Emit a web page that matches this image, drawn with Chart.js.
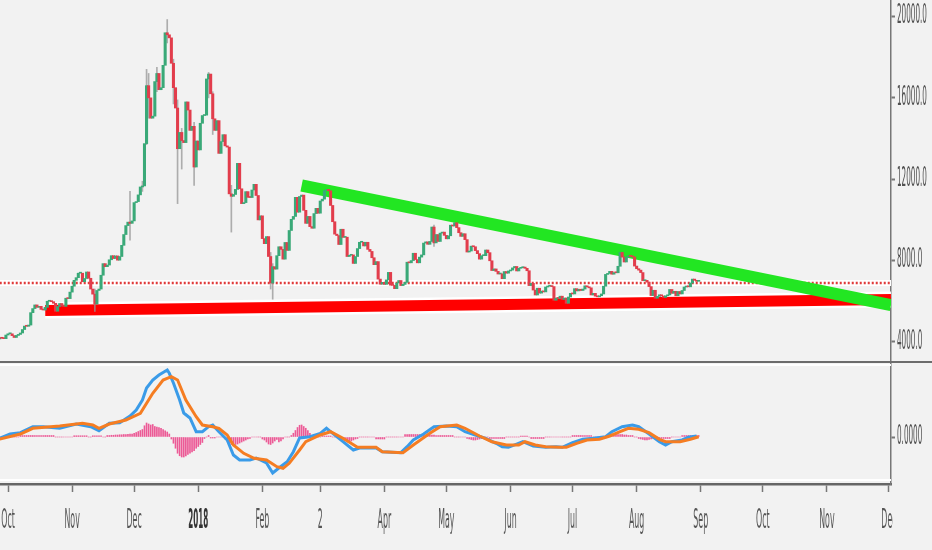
<!DOCTYPE html>
<html>
<head>
<meta charset="utf-8">
<script src="https://cdn.jsdelivr.net/npm/chart.js@4.4.0/dist/chart.umd.min.js"></script>
<style>
  html, body { margin: 0; padding: 0; background: #f2f2f2; }
  body { width: 932px; height: 550px; position: relative; overflow: hidden; }
  .abs { position: absolute; }
</style>
</head>
<body>
<div class="abs" style="left:0;top:0;width:932px;height:361px"><canvas id="price" width="932" height="361"></canvas></div>
<div class="abs" style="left:0;top:363px;width:932px;height:187px"><canvas id="macd" width="932" height="187"></canvas></div>
<div class="abs" style="left:0;top:361px;width:932px;height:2px;background:#6c6c6c"></div>
<div class="abs" style="left:0;top:364px;width:891px;height:2px;background:#ffffff"></div>
<div class="abs" style="left:0;top:479px;width:891px;height:2px;background:#ffffff"></div>
<script>
// ---------------- DATA ----------------
// day index: 0 = 1 Oct 2017 ; first candle = 27 Sep 2017
const firstDay = -4;
const startOpen = 4150;
const closes = [
 4200,4180,4160,4340,
 4400,4400,4310,4220,4320,4370,4440,4610,4780,4770,4830,5440,5640,5820,5700,5750,5600,5570,5700,6000,6010,5980,5900,5510,5740,5890,5770,5750,6150,6130,6450,
 6740,7030,7160,7380,7380,6960,7120,7440,7130,6600,6350,5860,6530,6600,7280,7850,7700,7780,8040,8240,8100,8230,8020,8200,8750,9280,9720,9890,9830,9950,
 10850,10900,11230,11620,11670,13750,16600,16000,15000,15100,16800,17200,16400,16500,17600,19200,19100,18950,17700,16500,15500,13500,14300,13900,13800,15800,15400,14400,14600,12600,13880,
 13440,14750,15130,15150,16930,17170,16200,14970,14400,14880,13270,13850,14190,13640,13580,11280,11160,11250,11500,12780,11530,10800,10850,11390,11110,11100,11470,11750,11200,10000,10200,
 9080,8830,9180,8200,6900,7700,7580,8240,8680,8550,8070,8890,8500,9480,10030,10170,11110,10380,11150,11220,10470,9830,10170,9670,9590,10310,10570,10330,
 10930,11020,11440,11500,11430,10710,9910,9300,9230,8790,9540,9140,9150,8200,8260,8280,7860,8200,8590,8900,8900,8720,8900,8550,8450,8140,7800,7950,7090,6840,6930,
 6830,7050,7420,6790,6780,6620,6900,7020,6770,6830,6930,7920,7890,8000,8360,8050,7890,8170,8280,8860,8920,8800,8940,9650,8870,9280,8940,9350,9400,9240,
 9070,9220,9740,9700,9860,9620,9370,9190,9320,9030,8420,8470,8710,8680,8490,8340,8070,8240,8240,8520,8390,7990,7510,7590,7470,7340,7350,7110,7460,7380,7490,
 7530,7640,7710,7490,7620,7650,7680,7620,7500,6770,6880,6550,6310,6640,6400,6500,6460,6700,6740,6760,6720,6050,6160,6140,6250,6090,6160,5900,6210,6390,
 6360,6620,6510,6590,6530,6600,6760,6710,6660,6310,6390,6250,6220,6270,6360,6740,7320,7370,7470,7330,7410,7400,7720,8400,8170,7930,8180,8230,8210,8180,7730,
 7600,7530,7410,7010,7030,6940,6720,6280,6540,6150,6240,6320,6260,6190,6270,6310,6580,6390,6490,6270,6480,6360,6530,6700,6730,6710,6900,7090,7030,6980,7010
];
const wickDays  = [42, 59, 65, 67, 68, 72, 77, 80, 82, 84, 90, 97, 99, 108, 127, 128, 206];
const wickHighs = [6600, 11400, 11900, 17400, 17200, 17500, 19850, 17900, 15900, 14500, 14800, 17250, 16300, 11700, 8400, 7850, 9750];
const wickLows  = [5500, 9000, 11400, 13700, 15000, 16300, 18700, 15700, 10800, 12500, 11700, 16000, 14200, 9400, 6600, 6100, 8700];

// MACD panel
const macdDays = [-4,1,6,12,17,25,33,40,44,49,54,59,62,65,67,70,73,77,78,80,83,85,88,91,94,97,99,102,106,109,112,117,120,125,128,131,135,138,141,146,151,154,157,162,167,170,178,181,190,193,196,201,206,212,217,221,226,231,236,239,242,249,254,260,265,268,273,278,283,289,292,297,302,305,310,315,318,321,326,329,333];
const macdVals = [-52,120,172,412,412,348,520,412,252,548,572,840,1080,1480,1960,2280,2480,2680,2548,2160,1480,960,760,212,212,412,480,212,-120,-720,-920,-920,-840,-1040,-1440,-1240,-988,-588,-40,12,148,348,148,-188,-520,-440,-440,-588,-628,-388,-120,120,412,440,412,212,80,-52,-252,-388,-412,-188,-360,-412,-388,-412,-228,-92,-52,12,212,412,480,412,120,-188,-320,-188,-120,-12,40];
const signalDays = [-4,6,12,25,36,41,44,49,57,64,70,75,79,82,86,91,94,99,102,106,109,114,119,125,130,133,136,141,144,151,156,162,169,178,181,191,196,204,209,217,221,228,234,241,247,250,255,260,267,270,275,280,286,291,296,300,305,310,315,318,325,330,334];
const signalVals = [-80,120,348,440,548,480,348,520,680,948,1748,2280,2412,2280,1480,812,480,412,348,80,-320,-652,-852,-920,-1188,-1252,-1052,-520,-188,80,212,-52,-412,-412,-588,-628,-320,148,412,480,348,40,-188,-320,-320,-188,-320,-388,-412,-412,-252,-120,-92,40,212,348,308,172,-92,-188,-188,-92,12];
const histVals = [
 0,0,0,0,0,0,0,0,0,0,
 60,60,60,60,60,60,60,60,60,60,60,60,60,60,60,60,60,
 0,0,0,0,0,0,0,0,0,
 50,50,50,50,50,50,50,
 0,0,
 50,50,50,50,50,
 0,0,
 60,60,70,70,80,80,90,90,100,100,110,120,120,
 150,180,220,260,
 300,450,560,520,480,500,420,400,380,350,300,250,200,120,
 -80,-250,-450,-650,-750,-800,-800,-760,-700,-650,-600,-550,-450,-380,-300,-220,
 -60,0,60,
 -40,-40,-40,0,0,0,0,
 -80,-160,-240,-300,-320,-300,-280,-240,-200,-160,-120,-80,-60,
 0,0,0,0,0,
 -80,-120,-200,-280,-300,-240,-160,-100,-200,-160,-80,
 0,0,0,
 60,150,260,380,470,480,420,350,260,150,60,
 0,0,0,0,
 40,40,40,40,40,
 0,0,0,0,
 -60,-120,-160,-200,-200,-160,-120,-80,-60,0,
 0,0,0,0,0,0,0,
 -80,-80,-80,-80,-80,
 0,0,0,0,0,0,0,0,0,
 100,100,100,100,100,100,100,100,100,
 80,80,80,80,80,80,
 60,60,60,60,60,60,60,60,60,
 0,0,0,0,0,0,
 -60,-80,-100,-120,-120,-100,-80,-60,
 0,0,0,
 -60,-60,-60,-60,-60,-60,-60,-60,
 0,0,0,0,0,0,0,
 40,40,40,40,
 0,
 -60,-60,-60,-60,-60,-60,-60,
 0,0,0,0,0,0,0,0,0,0,0,0,0,
 60,60,60,60,60,60,60,60,60,60,
 0,0,0,0,0,0,0,
 60,60,80,80,100,100,100,100,80,80,60,60,60,
 0,0,
 -60,-80,-100,-120,-120,-100,-80,-60,
 0,0,
 -60,-60,-60,-60,-60,-60,
 0,0,0,0,0,
 60,60,60,60,60,60,60,
 60,60
];

// Drawings on the price panel (day, price)
const resistanceDays = [142, 427];
const resistancePrices = [11691, 5816];
const supportDays = [18, 427];
const supportPrices = [5546, 6087];
const levelDays = [-4, 427];
const levelPrices = [6898, 6898];

// Axes
const dayMin = -3.87, dayMax = 427;
const priceMin = 3063, priceMax = 20811;
const priceTicks = [4000, 8000, 12000, 16000, 20000];
const macdMin = -1880, macdMax = 2960;
const macdTicks = [0];
const monthTickDays = [0, 31, 61, 92, 123, 151, 182, 212, 243, 273, 304, 335, 365, 396, 426];
const monthLabels = ['Oct','Nov','Dec','2018','Feb','2','Apr','May','Jun','Jul','Aug','Sep','Oct','Nov','Dec'];

// ---------------- BUILD ----------------
const UP = '#3aa978', DOWN = '#e23d4c';
const bodies = [], bodyColors = [];
closes.forEach((c, i) => {
  const o = i === 0 ? startOpen : closes[i - 1];
  bodies.push({ x: firstDay + i, y: [o, c] });
  bodyColors.push(c >= o ? UP : DOWN);
});
const wicks = wickDays.map((d, i) => ({ x: d, y: [wickLows[i], wickHighs[i]] }));
const pts = (xs, ys) => xs.map((x, i) => ({ x: x, y: ys[i] }));
const hist = histVals.map((v, i) => ({ x: firstDay + i, y: v }));

const FONT_FAMILY = '"Liberation Sans Narrow", "DejaVu Sans Condensed", "Liberation Sans", sans-serif';
function drawSqueezed(ctx, text, x, y, font, color, charW, align) {
  ctx.save();
  ctx.font = font;
  const sx = charW / ctx.measureText('0').width;
  ctx.translate(x, y);
  ctx.scale(sx, 1);
  ctx.fillStyle = color;
  ctx.textAlign = align;
  ctx.textBaseline = 'middle';
  ctx.fillText(text, 0, 0);
  ctx.restore();
}

const lineDs = (data, color, width, order, dash) => ({
  type: 'line', data: data, borderColor: color, borderWidth: width, pointRadius: 0,
  fill: false, tension: 0, order: order, borderDash: dash || [], borderCapStyle: 'butt'
});

const xScaleBase = {
  type: 'linear', min: dayMin, max: dayMax, offset: false,
  grid: { offset: false }
};

// ---------- price chart ----------
new Chart(document.getElementById('price'), {
  type: 'bar',
  data: {
    datasets: [
      { type: 'bar', data: wicks, backgroundColor: 'rgba(150,150,150,0.75)', barThickness: 1, grouped: false, order: 2 },
      { type: 'bar', data: bodies, backgroundColor: bodyColors, barThickness: 2.4, grouped: false, minBarLength: 1, order: 1 },
      lineDs(pts(levelDays, levelPrices), '#ffffff', 6, 20),
      lineDs(pts(levelDays, levelPrices), '#e03a3a', 2.5, 19, [2, 2]),
      lineDs(pts(supportDays, supportPrices), '#ffffff', 16, 18),
      lineDs(pts(supportDays, supportPrices), '#ff0000', 11, 17),
      lineDs(pts(resistanceDays, resistancePrices), '#22e622', 12, 16)
    ]
  },
  options: {
    responsive: false, animation: false, events: [],
    layout: { padding: 0 },
    plugins: { legend: { display: false }, tooltip: { enabled: false } },
    scales: {
      x: Object.assign({}, xScaleBase, { display: false }),
      y: {
        type: 'linear', position: 'right', min: priceMin, max: priceMax, beginAtZero: false,
        afterBuildTicks: s => { s.ticks = priceTicks.map(v => ({ value: v })); },
        afterFit: s => { s.width = 41; },
        ticks: { display: false },
        grid: { display: true, drawOnChartArea: false, drawTicks: true, tickLength: 4, tickColor: '#777', tickWidth: 2 },
        border: { display: true, color: '#777', width: 1.5 }
      }
    }
  },
  plugins: [{
    id: 'priceLabels',
    afterDraw(chart) {
      const s = chart.scales.y;
      priceTicks.forEach(v => {
        drawSqueezed(chart.ctx, v.toFixed(1), 897, s.getPixelForValue(v), '26px ' + FONT_FAMILY, '#505050', 4.6, 'left');
      });
    }
  }]
});

// ---------- MACD chart ----------
new Chart(document.getElementById('macd'), {
  type: 'bar',
  data: {
    datasets: [
      { type: 'bar', data: hist, backgroundColor: '#ec5a96', barThickness: 1, grouped: false, order: 3 },
      lineDs(pts(macdDays, macdVals), '#3a9be8', 3, 2),
      lineDs(pts(signalDays, signalVals), '#f57d22', 3, 1)
    ]
  },
  options: {
    responsive: false, animation: false, events: [],
    layout: { padding: 0 },
    plugins: { legend: { display: false }, tooltip: { enabled: false } },
    scales: {
      x: Object.assign({}, xScaleBase, {
        display: true, position: 'bottom',
        afterBuildTicks: s => { s.ticks = monthTickDays.map(v => ({ value: v })); },
        afterFit: s => { s.height = 66; },
        ticks: { display: false },
        grid: { display: true, offset: false, drawOnChartArea: false, drawTicks: true, tickLength: 8, tickColor: '#777', tickWidth: 1.5 },
        border: { display: true, color: '#666', width: 2.5 }
      }),
      y: {
        type: 'linear', position: 'right', min: macdMin, max: macdMax, beginAtZero: false,
        afterBuildTicks: s => { s.ticks = macdTicks.map(v => ({ value: v })); },
        afterFit: s => { s.width = 41; },
        ticks: { display: false },
        grid: { display: true, drawOnChartArea: false, drawTicks: true, tickLength: 4, tickColor: '#777', tickWidth: 2 },
        border: { display: true, color: '#777', width: 1.5 }
      }
    }
  },
  plugins: [{
    id: 'macdLabels',
    afterDraw(chart) {
      const ctx = chart.ctx;
      const sy = chart.scales.y, sx = chart.scales.x;
      macdTicks.forEach(v => {
        drawSqueezed(ctx, v.toFixed(4), 897, sy.getPixelForValue(v), '26px ' + FONT_FAMILY, '#505050', 4.6, 'left');
      });
      ctx.save();
      ctx.beginPath();
      ctx.rect(0, 0, 893, chart.height);
      ctx.clip();
      monthTickDays.forEach((d, i) => {
        const lbl = monthLabels[i];
        const bold = lbl === '2018';
        drawSqueezed(ctx, lbl, sx.getPixelForValue(d), 158, (bold ? '700 ' : '') + '26px ' + FONT_FAMILY, bold ? '#333' : '#555', 5, 'center');
      });
      ctx.restore();
    }
  }]
});
</script>
</body>
</html>
